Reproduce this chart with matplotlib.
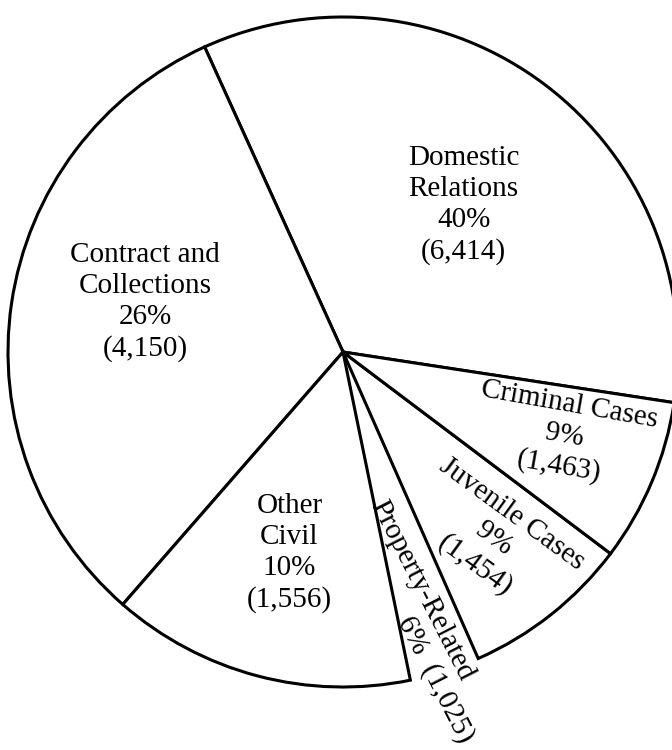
import matplotlib
matplotlib.use("Agg")
import matplotlib.pyplot as plt

# case types, counts and shares as printed on the chart
categories = ["Domestic\nRelations", "Contract and\nCollections", "Other\nCivil",
              "Property-Related", "Juvenile Cases", "Criminal Cases"]
percents = ["40%", "26%", "10%", "6%", "9%", "9%"]
counts = ["6,414", "4,150", "1,556", "1,025", "1,454", "1,463"]
# slice sizes as they are drawn in the original (degrees)
drawn_deg = [123.1, 114.5, 52.7, 12.2, 29.2, 28.3]

plt.rcParams['font.family'] = ['Liberation Serif', 'DejaVu Serif']

fig = plt.figure(figsize=(6.72, 7.5), dpi=100)
ax = fig.add_axes([0, 0, 1, 1])

wedges, _ = ax.pie(drawn_deg, startangle=-8.7, counterclock=True, radius=1,
                   colors=['white'] * 6,
                   wedgeprops=dict(edgecolor='black', linewidth=2.2))
# the property slice is left open at the rim, its sides come from the neighbours
wedges[3].set_edgecolor('none')
wedges[3].set_zorder(0)

# circle centre sits at (343, 352) px, radius 335 px
ax.set_xlim(-343 / 335, (672 - 343) / 335)
ax.set_ylim(-(750 - 352) / 335, 352 / 335)
ax.set_aspect('auto')
ax.axis('off')

fs = 21
ls = 1.25
ax.text(0.36, 0.44, f"{categories[0]}\n{percents[0]}\n({counts[0]})",
        ha='center', va='center', fontsize=fs, linespacing=ls)
ax.text(-0.59, 0.15, f"{categories[1]}\n{percents[1]}\n({counts[1]})",
        ha='center', va='center', fontsize=fs, linespacing=ls)
ax.text(-0.16, -0.60, f"{categories[2]}\n{percents[2]}\n({counts[2]})",
        ha='center', va='center', fontsize=fs, linespacing=ls)
ax.text(0.66, -0.25, f"{categories[5]}\n{percents[5]}\n({counts[5]})",
        ha='center', va='center', fontsize=fs, linespacing=ls,
        rotation=-10, rotation_mode='anchor')
ax.text(0.45, -0.56, f"{categories[4]}\n{percents[4]}\n({counts[4]})",
        ha='center', va='center', fontsize=fs, linespacing=ls,
        rotation=-36, rotation_mode='anchor')
ax.text(0.236, -0.712, categories[3], ha='center', va='center', fontsize=fs,
        rotation=-63, rotation_mode='anchor')
ax.text(0.276, -0.978, f"{percents[3]}  ({counts[3]})", ha='center', va='center',
        fontsize=fs, rotation=-63, rotation_mode='anchor')

fig.savefig("out.png", dpi=100)
